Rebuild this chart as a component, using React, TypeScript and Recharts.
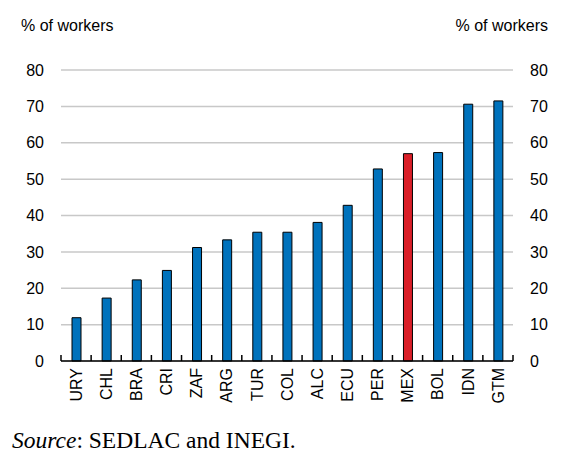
import { ComposedChart, Bar, Line, XAxis, YAxis, CartesianGrid, Cell, ReferenceLine } from 'recharts'

const countries = ['URY', 'CHL', 'BRA', 'CRI', 'ZAF', 'ARG', 'TUR', 'COL', 'ALC', 'ECU', 'PER', 'MEX', 'BOL', 'IDN', 'GTM']
const shares = [11.9, 17.3, 22.3, 24.9, 31.2, 33.3, 35.4, 35.4, 38.1, 42.8, 52.8, 57.0, 57.3, 70.6, 71.5]
const highlighted = ['MEX']
const yTicks = [0, 10, 20, 30, 40, 50, 60, 70, 80]

const data = countries.map((c, i) => ({ country: c, value: shares[i] }))

const BLUE = '#0072BC'
const RED = '#DA1F28'
const FONT = 'Liberation Sans, Arial, sans-serif'

function CountryTick({ x, y, payload }: any) {
  return (
    <g transform={`translate(${x},${y})`}>
      <text
        transform="rotate(-90)"
        x={-7}
        y={0}
        dy="0.36em"
        textAnchor="end"
        fontSize={16}
        fontFamily={FONT}
        fill="#000"
      >
        {payload.value}
      </text>
    </g>
  )
}

export default function App() {
  const tickStyle = { fontSize: 16, fontFamily: FONT, fill: '#000' }
  const last = countries[countries.length - 1]
  return (
    <div style={{ position: 'absolute', left: 0, top: 0, width: 567, height: 461, background: '#fff' }}>
      <div style={{ position: 'absolute', left: 21, top: 17.5, fontSize: 16, lineHeight: '16px', fontFamily: FONT }}>
        % of workers
      </div>
      <div style={{ position: 'absolute', right: 19, top: 17.5, fontSize: 16, lineHeight: '16px', fontFamily: FONT }}>
        % of workers
      </div>
      <ComposedChart width={567} height={420} data={data} margin={{ top: 70, right: 0, bottom: 0, left: 0 }}>
        <CartesianGrid vertical={false} stroke="#C8C8C8" strokeWidth={1.5} yAxisId="left" />
        <XAxis
          dataKey="country"
          height={59}
          interval={0}
          tickLine={false}
          tickSize={0}
          tickMargin={0}
          axisLine={{ stroke: '#000', strokeWidth: 1.5 }}
          tick={<CountryTick />}
        />
        <YAxis
          yAxisId="left"
          width={61}
          domain={[0, 80]}
          ticks={yTicks}
          axisLine={false}
          tickLine={false}
          tickSize={0}
          tickMargin={17}
          tick={tickStyle}
        />
        <YAxis
          yAxisId="right"
          orientation="right"
          width={54}
          domain={[0, 80]}
          ticks={yTicks}
          axisLine={false}
          tickLine={false}
          tickSize={0}
          tickMargin={17}
          tick={tickStyle}
        />
        <Bar dataKey="value" yAxisId="left" barSize={9} stroke="#000" strokeWidth={1} isAnimationActive={false}>
          {data.map(d => (
            <Cell key={d.country} fill={highlighted.includes(d.country) ? RED : BLUE} />
          ))}
        </Bar>
        <Line
          dataKey="value"
          yAxisId="right"
          stroke="none"
          dot={false}
          activeDot={false}
          legendType="none"
          isAnimationActive={false}
        />
        {countries.map(c => (
          <ReferenceLine
            key={c}
            yAxisId="left"
            position="start"
            segment={[{ x: c, y: 0 }, { x: c, y: 1.65 }]}
            stroke="#000"
            strokeWidth={1.5}
            ifOverflow="visible"
          />
        ))}
        <ReferenceLine
          yAxisId="left"
          position="end"
          segment={[{ x: last, y: 0 }, { x: last, y: 1.65 }]}
          stroke="#000"
          strokeWidth={1.5}
          ifOverflow="visible"
        />
      </ComposedChart>
      <div
        style={{
          position: 'absolute',
          left: 12,
          top: 429,
          fontSize: 23.5,
          lineHeight: '23.5px',
          fontFamily: 'Liberation Serif, Times New Roman, serif',
        }}
      >
        <i>Source</i>: SEDLAC and INEGI.
      </div>
    </div>
  )
}
